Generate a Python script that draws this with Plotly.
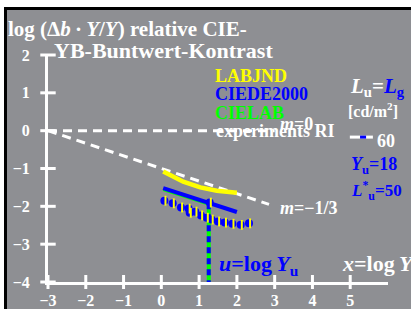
import plotly.graph_objects as go

# ---------------- data ----------------
x_ticks = [-3, -2, -1, 0, 1, 2, 3, 4, 5]
x_ticktext = ["\u22123", "\u22122", "\u22121", "0", "1", "2", "3", "4", "5"]
y_ticks = [-4, -3, -2, -1, 0, 1, 2]
y_ticktext = ["\u22124", "\u22123", "\u22122", "\u22121", "0", "1", "2"]

m0_x = [-3.0, 3.0]
m0_y = [0.0, 0.0]
m13_x = [-3.0, 2.85]
m13_y = [0.0, -1.95]

labjnd_x = [0.05, 0.58, 1.03, 1.47, 2.0]
labjnd_y = [-1.08, -1.35, -1.50, -1.59, -1.64]

ciede_x = [0.05, 2.0]
ciede_y = [-1.52, -2.15]

cielab_x = [0.05, 1.25]
cielab_y = [-1.56, -1.94]

exp_x = [0.08, 0.30, 0.52, 0.72, 0.75, 0.90, 1.05, 1.20, 1.28, 1.33, 1.50, 1.68, 1.88, 2.10, 2.32]
exp_y = [-1.85, -1.92, -2.03, -2.06, -2.17, -2.14, -2.24, -2.30, -1.90, -2.35, -2.40, -2.43, -2.46, -2.49, -2.45]

u_x = [1.255, 1.255]
u_y = [-1.92, -4.0]

sample_x = [4.99, 5.60]
sample_blue_x = [5.26, 5.42]
sample_y = [-0.17, -0.17]

# ---------------- layout geometry ----------------
W, H = 411, 309
ML, MR, MT, MB = 48, 23, 55, 27
PW, PH = W - ML - MR, H - MT - MB
BG = "#8e8f93"
FONT = "Liberation Serif"
BLUE, YEL, GRN = "#0000ff", "#ffff00", "#00ff00"


def P(xp, yp):
    return (xp - ML) / PW, (H - MB - yp) / PH


fig = go.Figure()


def line(x, y, color, width, dash="solid"):
    fig.add_trace(go.Scatter(x=x, y=y, mode="lines", hoverinfo="skip",
                             line=dict(color=color, width=width, dash=dash)))


line(m0_x, m0_y, "white", 3, "9px,6px")
line(m13_x, m13_y, "white", 3, "9px,6px")
line(labjnd_x, labjnd_y, YEL, 4.5)
line(cielab_x, cielab_y, GRN, 3)
line(ciede_x, ciede_y, BLUE, 4)
line(u_x, u_y, GRN, 4)
line(u_x, u_y, BLUE, 4, "6px,5px")

fig.add_trace(go.Scatter(x=exp_x, y=exp_y, mode="markers", hoverinfo="skip",
                         marker=dict(symbol="circle", size=8, color=BLUE)))
fig.add_trace(go.Scatter(x=[v + 0.03 for v in exp_x], y=exp_y, mode="markers", hoverinfo="skip",
                         marker=dict(symbol="line-ns", size=7, line=dict(color=YEL, width=2))))

line(sample_x, sample_y, "white", 3)
line(sample_blue_x, sample_y, BLUE, 3)

# crossing tick marks
fig.add_trace(go.Scatter(x=x_ticks, y=[y_ticks[0]] * len(x_ticks), mode="markers", hoverinfo="skip",
                         cliponaxis=False,
                         marker=dict(symbol="line-ns", size=10, line=dict(color="white", width=3))))
fig.add_trace(go.Scatter(x=[x_ticks[0]] * len(y_ticks), y=y_ticks, mode="markers", hoverinfo="skip",
                         cliponaxis=False,
                         marker=dict(symbol="line-ew", size=11, line=dict(color="white", width=3))))

tickfont = dict(family=FONT, size=16, color="white", weight="bold")
fig.update_xaxes(range=[-3, 6], showline=True, linecolor="white", linewidth=3,
                 showgrid=False, zeroline=False, ticks="", tickvals=x_ticks,
                 ticktext=x_ticktext, tickfont=tickfont, ticklabelstandoff=2,
                 automargin=False)
fig.update_yaxes(range=[-4, 2], showline=True, linecolor="white", linewidth=3,
                 showgrid=False, zeroline=False, ticks="", tickvals=y_ticks,
                 ticktext=y_ticktext, tickfont=tickfont, ticklabelstandoff=12,
                 automargin=False)

# background frame
x0, y0 = P(5.5, 8.5)
x1, y1 = P(430, 330)
fig.add_shape(type="rect", xref="paper", yref="paper", x0=x0, y0=y1, x1=x1, y1=y0,
              fillcolor=BG, line=dict(color="black", width=3), layer="below")


def txt(text, xp, yp, size, color="white"):
    ax, ay = P(xp, yp)
    fig.add_annotation(text="<b>" + text + "</b>", x=ax, y=ay, xref="paper", yref="paper",
                       xanchor="left", yanchor="middle", showarrow=False,
                       font=dict(family=FONT, size=size, color=color))


txt("log (\u0394<i>b</i>\u2009\u00b7\u2009<i>Y</i>/<i>Y</i>) relative CIE-", 6, 29, 21)
txt("YB-Buntwert-Kontrast", 52, 50, 22)
txt("LABJND", 213, 76, 18, YEL)
txt("CIEDE2000", 213, 94, 18, BLUE)
txt("CIELAB", 213, 113, 18, GRN)
txt("experiments RI", 214, 131, 18)
txt("<i>m</i>=0", 278, 124, 18)
txt("<i>L</i><sub>u</sub>=<span style='color:#0000ff'><i>L</i><sub>g</sub></span>", 348, 87, 21)
txt("[cd/m<sup>2</sup>]", 346, 110, 16)
txt("60", 375, 141, 18)
txt("<i>Y</i><sub>u</sub>=18", 349, 165, 18, BLUE)
txt("<i>L</i><sup>*</sup><sub>u</sub>=50", 349, 190, 17, BLUE)
txt("<i>m</i>=\u22121/3", 278, 208, 18)
txt("<i>u</i>=log\u2009<i>Y</i><sub>u</sub>", 217, 265, 22, BLUE)
txt("<i>x</i>=log\u2009<i>Y</i>", 340, 263, 22)

fig.update_layout(width=W, height=H,
                  margin=dict(l=ML, r=MR, t=MT, b=MB, autoexpand=False),
                  paper_bgcolor="white", plot_bgcolor="rgba(0,0,0,0)",
                  showlegend=False, font=dict(family=FONT))

fig.write_html("out.html", config={"displayModeBar": False},
               post_script="document.body.style.margin='0';document.body.style.overflow='hidden';")
